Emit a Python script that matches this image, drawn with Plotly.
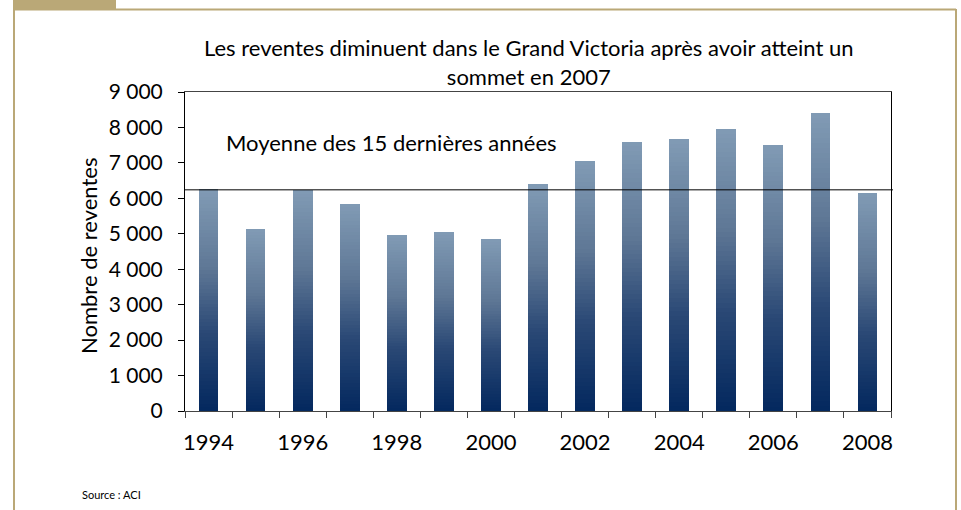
import plotly.graph_objects as go

# ---- data ----
years = [1994, 1995, 1996, 1997, 1998, 1999, 2000, 2001, 2002, 2003, 2004, 2005, 2006, 2007, 2008]
reventes = [6260, 5140, 6240, 5840, 4970, 5050, 4850, 6400, 7050, 7590, 7670, 7960, 7500, 8410, 6150]
moyenne = 6240
year_labels = ["1994", "1996", "1998", "2000", "2002", "2004", "2006", "2008"]
year_label_vals = [1994, 1996, 1998, 2000, 2002, 2004, 2006, 2008]
y_ticks = [0, 1000, 2000, 3000, 4000, 5000, 6000, 7000, 8000, 9000]

title_text = "Les reventes diminuent dans le Grand Victoria après avoir atteint un<br>sommet en 2007"
avg_label = "Moyenne des 15 dernières années"
y_title = "Nombre de reventes"
source_text = "Source : ACI"

# ---- layout constants (pixels) ----
W, H = 961, 510
L, R, T, B = 185, 891, 92, 411
FONT = "Lato"
FS = 22

def px_x(p):
    return (p - L) / (R - L)

def px_y(p):
    return (B - p) / (B - T)

# gradient colours (bottom -> top)
stops = [(0.0, (3, 40, 94)), (0.35, (42, 72, 117)), (0.65, (95, 120, 150)), (1.0, (129, 155, 181))]

def grad(t):
    for (t0, c0), (t1, c1) in zip(stops[:-1], stops[1:]):
        if t <= t1:
            f = (t - t0) / (t1 - t0) if t1 > t0 else 0
            return "rgb(%d,%d,%d)" % tuple(round(a + (b - a) * f) for a, b in zip(c0, c1))
    return "rgb(%d,%d,%d)" % stops[-1][1]

N = 60
fig = go.Figure()
for k in range(N):
    fig.add_trace(go.Bar(
        x=years,
        y=[v / N for v in reventes],
        width=0.42,
        marker=dict(color=grad((k + 0.5) / N), line=dict(width=0)),
        hoverinfo="skip",
        showlegend=False,
    ))

fig.update_layout(
    width=W, height=H,
    barmode="stack",
    bargap=0,
    paper_bgcolor="white",
    plot_bgcolor="white",
    separators=", ",
    margin=dict(l=L, r=W - R, t=T, b=H - B, pad=0),
    font=dict(family=FONT, color="black", size=FS),
    showlegend=False,
)

fig.update_xaxes(
    range=[1993.5, 2008.5],
    tickmode="array",
    tickvals=year_label_vals,
    ticktext=year_labels,
    ticks="",
    ticklen=0,
    ticklabelstandoff=12,
    tickfont=dict(size=FS),
    showgrid=False,
    zeroline=False,
    showline=True,
    linecolor="#444444",
    linewidth=1,
    mirror=True,
    minor=dict(tickmode="linear", tick0=1993.5, dtick=1, ticks="outside", ticklen=6,
               tickcolor="#444444", tickwidth=1, showgrid=False),
)

fig.update_yaxes(
    range=[0, 9000],
    tickmode="array",
    tickvals=y_ticks,
    tickformat=",d",
    ticks="outside",
    ticklen=6,
    tickcolor="black",
    ticklabelstandoff=11,
    tickfont=dict(size=21),
    showgrid=False,
    zeroline=False,
    showline=True,
    linecolor="black",
    linewidth=1,
    mirror=True,
)

shapes = [
    # average line
    dict(type="line", xref="paper", yref="y", x0=0, x1=px_x(893), y0=moyenne, y1=moyenne,
         line=dict(color="black", width=1)),
    # outer frame
    dict(type="line", xref="paper", yref="paper", x0=px_x(14), x1=px_x(14), y0=px_y(9), y1=px_y(520),
         line=dict(color="#baa877", width=2)),
    dict(type="line", xref="paper", yref="paper", x0=px_x(14), x1=px_x(956), y0=px_y(9.5), y1=px_y(9.5),
         line=dict(color="#baa877", width=2)),
    dict(type="line", xref="paper", yref="paper", x0=px_x(956), x1=px_x(956), y0=px_y(9), y1=px_y(520),
         line=dict(color="#baa877", width=2)),
    # tab
    dict(type="rect", xref="paper", yref="paper", x0=px_x(13), x1=px_x(116), y0=px_y(-2), y1=px_y(10),
         fillcolor="#baa877", line=dict(width=0)),
]
fig.update_layout(shapes=shapes)

annotations = [
    dict(text=title_text, xref="paper", yref="paper", x=px_x(529), y=px_y(62),
         xanchor="center", yanchor="middle", showarrow=False, font=dict(size=FS), align="center"),
    dict(text=avg_label, xref="paper", yref="paper", x=px_x(224), y=px_y(142),
         xanchor="left", yanchor="middle", showarrow=False, font=dict(size=FS)),
    dict(text=y_title, xref="paper", yref="paper", x=px_x(88), y=px_y(256),
         xanchor="center", yanchor="middle", textangle=-90, showarrow=False, font=dict(size=FS)),
    dict(text=source_text, xref="paper", yref="paper", x=px_x(80), y=px_y(494),
         xanchor="left", yanchor="middle", showarrow=False, font=dict(size=11)),
]
fig.update_layout(annotations=annotations)

fig.write_html("out.html", config={"displayModeBar": False},
               post_script="document.body.style.margin='0';")
